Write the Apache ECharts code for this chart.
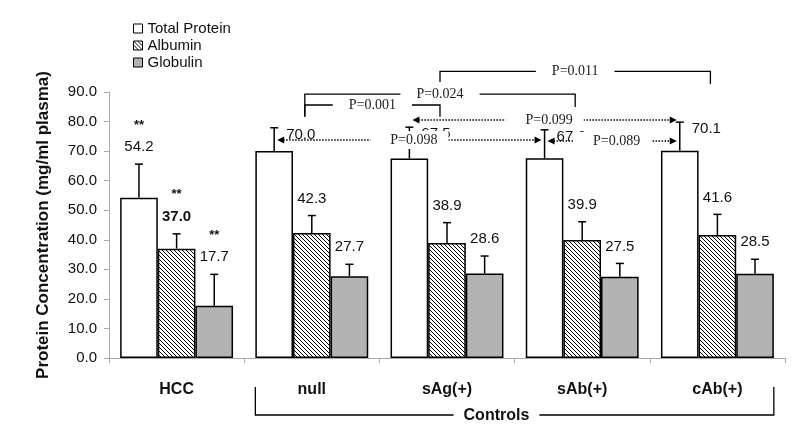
<!DOCTYPE html>
<html><head><meta charset="utf-8">
<script src="https://cdn.jsdelivr.net/npm/echarts@6/dist/echarts.min.js"></script>
<style>html,body{margin:0;padding:0;background:#fff}#c{width:800px;height:446px}</style>
</head><body><div id="c"></div>
<script>
// ---------------- data ----------------
const categories = ['HCC', 'null', 'sAg(+)', 'sAb(+)', 'cAb(+)'];
const seriesNames = ['Total Protein', 'Albumin', 'Globulin'];
const totalProtein = [54.2, 70.0, 67.5, 67.6, 70.1];
const albumin = [37.0, 42.3, 38.9, 39.9, 41.6];
const globulin = [17.7, 27.7, 28.6, 27.5, 28.5];
const totalErr = [11.4, 7.9, 10.6, 9.6, 9.7];
const albuminErr = [5.0, 5.9, 6.9, 6.2, 7.0];
const globulinErr = [10.6, 4.0, 5.9, 4.5, 4.9];
const hccSignificance = ['**', '**', '**'];
const yTickMin = 0, yTickMax = 90, yTickStep = 10;
const pBrackets = [
  { from: 'null', to: 'sAg(+)', p: 'P=0.001' },
  { from: 'null', to: 'sAb(+)', p: 'P=0.024' },
  { from: 'sAg(+)', to: 'cAb(+)', p: 'P=0.011' }
];
const pArrows = [
  { from: 'null', to: 'sAb(+)', p: 'P=0.098' },
  { from: 'sAg(+)', to: 'cAb(+)', p: 'P=0.099' },
  { from: 'sAb(+)', to: 'cAb(+)', p: 'P=0.089' }
];
const groupName = 'Controls';
const groupFrom = 'null', groupTo = 'cAb(+)';

// ---------------- layout / style ----------------
const SANS = "'Liberation Sans', Arial, sans-serif";
const SERIF = "'Liberation Serif', 'Times New Roman', serif";
const GAP = 0.165;
// bracket levels (value units) : [top, leftEnd, rightEnd]
const bracketLevels = [[85.6, 81.6, 81.6], [89.3, 81.6, 84.9], [97.0, 93.4, 92.7]];
const arrowLevels = [73.8, 80.5, 73.4];

function hatch() {
  const c = document.createElement('canvas');
  c.width = 4; c.height = 4;
  const g = c.getContext('2d');
  g.fillStyle = '#fff'; g.fillRect(0, 0, 4, 4);
  g.strokeStyle = '#000'; g.lineWidth = 1;
  g.beginPath();
  g.moveTo(-1, -1); g.lineTo(5, 5);
  g.moveTo(-1, 3); g.lineTo(1, 5);
  g.moveTo(3, -1); g.lineTo(5, 1);
  g.stroke();
  return c;
}
const fills = ['#ffffff', { image: hatch(), repeat: 'repeat' }, '#b3b3b3'];
const values = [totalProtein, albumin, globulin];
const errs = [totalErr, albuminErr, globulinErr];

const errData = [];
for (let s = 0; s < 3; s++) for (let i = 0; i < categories.length; i++) errData.push([i, s, values[s][i], errs[s][i]]);

function renderErr(params, api) {
  const ci = api.value(0), si = api.value(1), v = api.value(2), e = api.value(3);
  const band = api.size([1, 0])[0];
  const barW = band * (1 - GAP) / 3;
  const cx = api.coord([ci, 0])[0] + (si - 1) * barW;
  const yTop = api.coord([ci, v])[1];
  const yErr = api.coord([ci, v + e])[1];
  const children = [
    { type: 'line', shape: { x1: cx, y1: yTop, x2: cx, y2: yErr }, style: { stroke: '#000', lineWidth: 1.5 } },
    { type: 'line', shape: { x1: cx - 4, y1: yErr, x2: cx + 4, y2: yErr }, style: { stroke: '#000', lineWidth: 1.5 } }
  ];
  const bold = (ci === 0 && si === 1);
  let tx, ty, align;
  if (si === 0 && ci > 0) { tx = cx + 12; ty = yErr + 7; align = 'left'; }
  else { tx = cx; ty = yErr - 17; align = 'center'; }
  children.push({ type: 'text', z2: 5, style: { text: v.toFixed(1), x: tx, y: ty, align: align, verticalAlign: 'middle',
    font: (bold ? 'bold ' : '') + '15px ' + SANS, fill: '#111' } });
  if (ci === 0) {
    children.push({ type: 'text', style: { text: hccSignificance[si], x: cx, y: ty - 22, align: 'center', verticalAlign: 'middle',
      font: 'bold 13px ' + SANS, fill: '#111' } });
  }
  return { type: 'group', children: children };
}

const chart = echarts.init(document.getElementById('c'), null, { renderer: 'canvas' });
const option = {
  animation: false,
  backgroundColor: '#fff',
  grid: { left: 109, right: 15, top: 92, bottom: 88, containLabel: false },
  legend: {
    data: seriesNames, orient: 'vertical', left: 128, top: 16, itemWidth: 9, itemHeight: 9, itemGap: 2,
    icon: 'rect', itemStyle: { borderColor: '#000', borderWidth: 1 },
    textStyle: { fontFamily: SANS, fontSize: 15, color: '#111' }
  },
  xAxis: {
    type: 'category', data: categories,
    axisLine: { lineStyle: { color: '#aaa', width: 1 } },
    axisTick: { show: true, length: 5, lineStyle: { color: '#aaa' } },
    axisLabel: { margin: 24, fontFamily: SANS, fontSize: 16, fontWeight: 'bold', color: '#111' }
  },
  yAxis: {
    type: 'value', min: yTickMin, max: yTickMax, interval: yTickStep,
    name: 'Protein Concentration (mg/ml plasma)', nameLocation: 'middle', nameGap: 57,
    nameTextStyle: { fontFamily: SANS, fontSize: 17, fontWeight: 'bold', color: '#111' },
    axisLine: { show: true, lineStyle: { color: '#aaa', width: 1 } },
    axisTick: { show: true, length: 5, lineStyle: { color: '#aaa' } },
    splitLine: { show: false },
    axisLabel: { margin: 12, fontFamily: SANS, fontSize: 15, color: '#111', formatter: v => v.toFixed(1) }
  },
  series: [
    ...seriesNames.map((n, s) => ({
      name: n, type: 'bar', data: values[s], barGap: 0, barCategoryGap: (GAP * 100) + '%',
      itemStyle: { color: fills[s], borderColor: '#000', borderWidth: 1.5 }
    })),
    { type: 'custom', name: 'err', data: errData, renderItem: renderErr, encode: { x: 0, y: 2 }, z: 5, clip: false, silent: true }
  ]
};
chart.setOption(option);

// ---------------- annotations ----------------
function P(ci, val) { return chart.convertToPixel({ gridIndex: 0 }, [ci, val]); }
const band = P(1, 0)[0] - P(0, 0)[0];
const barW = band * (1 - GAP) / 3;
const idx = n => categories.indexOf(n);
const totalX = n => P(idx(n), 0)[0] - barW;
const yPix = v => P(0, v)[1];
const g = [];
const pFont = '14px ' + SERIF;

pBrackets.forEach((b, k) => {
  const [top, le, re] = bracketLevels[k];
  const xl = P(idx(b.from), 0)[0] - 7, xr = P(idx(b.to), 0)[0] - 7;
  g.push({ type: 'polyline', z: 50, shape: { points: [[xl, yPix(le)], [xl, yPix(top)], [xr, yPix(top)], [xr, yPix(re)]] },
    style: { stroke: '#000', lineWidth: 1.3, fill: null } });
  g.push({ type: 'text', z: 60, style: { text: b.p, x: (xl + xr) / 2, y: yPix(top), align: 'center', verticalAlign: 'middle',
    font: pFont, fill: '#222', backgroundColor: '#fff', padding: [1, 16, 1, 16] } });
});

pArrows.forEach((a, k) => {
  const y = yPix(arrowLevels[k]);
  const x1 = totalX(a.from) + 3, x2 = totalX(a.to) - 3;
  g.push({ type: 'line', z: 50, shape: { x1: x1 + 6, y1: y, x2: x2 - 6, y2: y },
    style: { stroke: '#000', lineWidth: 1.5, lineDash: [1.5, 1.5] } });
  g.push({ type: 'polygon', z: 50, shape: { points: [[x1, y], [x1 + 7, y - 3.5], [x1 + 7, y + 3.5]] }, style: { fill: '#000' } });
  g.push({ type: 'polygon', z: 50, shape: { points: [[x2, y], [x2 - 7, y - 3.5], [x2 - 7, y + 3.5]] }, style: { fill: '#000' } });
  g.push({ type: 'text', z: 60, style: { text: a.p, x: (x1 + x2) / 2, y: y, align: 'center', verticalAlign: 'middle',
    font: pFont, fill: '#222', backgroundColor: '#fff', padding: [2, 11, 2, 20] } });
});

// Controls group bracket
const axisY = yPix(0);
const gl = P(idx(groupFrom), 0)[0] - 1.5 * barW, gr = P(idx(groupTo), 0)[0] + 1.5 * barW;
g.push({ type: 'polyline', z: 50, shape: { points: [[gl, axisY + 29], [gl, axisY + 57], [gr, axisY + 57], [gr, axisY + 29]] },
  style: { stroke: '#000', lineWidth: 1.3, fill: null } });
g.push({ type: 'text', z: 60, style: { text: groupName, x: gl + 0.465 * (gr - gl), y: axisY + 58, align: 'center', verticalAlign: 'middle',
  font: 'bold 16px ' + SANS, fill: '#111', backgroundColor: '#fff', padding: [2, 10, 2, 10] } });

chart.setOption({ graphic: g });
</script>
</body></html>
